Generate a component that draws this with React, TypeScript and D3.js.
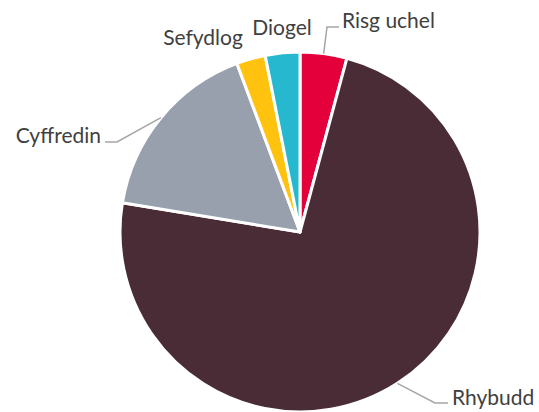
import { useEffect } from 'react'
import * as d3 from 'd3'

const categories = ['Risg uchel', 'Rhybudd', 'Cyffredin', 'Sefydlog', 'Diogel']
const values = [4.2, 73.4, 16.7, 2.6, 3.1]
const colors = ['#E4003B', '#4A2C37', '#97A0AC', '#FFC20E', '#26B8CE']

const W = 539
const H = 412
const cx = 300
const cy = 232
const R = 180

// label placement: elbow point, text baseline position, anchor; leader line only where drawn
const labelLayout: Record<string, { elbow?: [number, number]; end?: [number, number]; tx: number; ty: number; anchor: string }> = {
  'Risg uchel': { elbow: [327, 27], end: [339, 27], tx: 342, ty: 28, anchor: 'start' },
  Rhybudd: { elbow: [435, 403], end: [448, 403], tx: 452, ty: 405, anchor: 'start' },
  Cyffredin: { elbow: [117, 142], end: [105, 142], tx: 101, ty: 143, anchor: 'end' },
  Sefydlog: { tx: 203, ty: 45, anchor: 'middle' },
  Diogel: { tx: 282, ty: 35, anchor: 'middle' },
}

export default function App() {
  useEffect(() => {
    document.body.style.margin = '0'
  }, [])

  const pie = d3.pie<number>().sort(null).value((d) => d)
  const arcs = pie(values)
  const arc = d3.arc<d3.PieArcDatum<number>>().innerRadius(0).outerRadius(R)

  return (
    <svg width={W} height={H} style={{ display: 'block', fontFamily: 'Lato, "Open Sans", sans-serif' }}>
      <g transform={`translate(${cx},${cy})`}>
        {arcs.map((a, i) => (
          <path key={i} d={arc(a) ?? ''} fill={colors[i]} stroke="#fff" strokeWidth={3} strokeLinejoin="round" />
        ))}
      </g>
      {arcs.map((a, i) => {
        const name = categories[i]
        const L = labelLayout[name]
        const mid = (a.startAngle + a.endAngle) / 2
        const sx = cx + R * Math.sin(mid)
        const sy = cy - R * Math.cos(mid)
        return (
          <g key={name}>
            {L.elbow && L.end && (
              <polyline
                points={`${sx},${sy} ${L.elbow[0]},${L.elbow[1]} ${L.end[0]},${L.end[1]}`}
                fill="none"
                stroke="#A6A6A6"
                strokeWidth={1.5}
              />
            )}
            <text x={L.tx} y={L.ty} textAnchor={L.anchor} fontSize={21} fill="#404040">
              {name}
            </text>
          </g>
        )
      })}
    </svg>
  )
}
